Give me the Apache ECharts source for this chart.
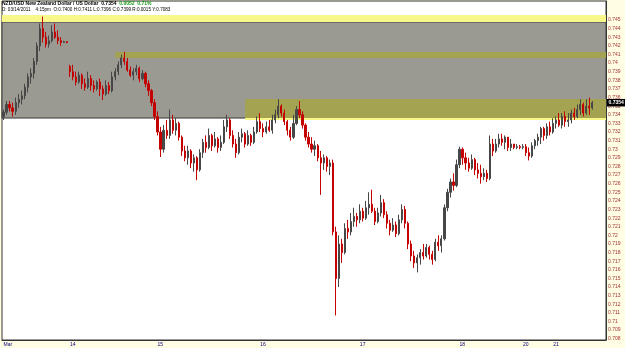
<!DOCTYPE html>
<html><head><meta charset="utf-8">
<script src="https://cdn.jsdelivr.net/npm/echarts@6/dist/echarts.min.js"></script>
<style>html,body{margin:0;padding:0;background:#fffde4;}#c{width:625px;height:348px;}</style>
</head><body><div id="c"></div><script>
// candles per day, [open, close, low, high] in pips (price x 10000)
const dayNames = ['Mar','14','15','16','17','18','20','21'];
const dayMar = [[7338,7343,7334,7346],[7343,7352,7340,7356],[7352,7348,7344,7356],[7348,7344,7338,7354],[7344,7354,7340,7360],[7354,7358,7348,7364],[7358,7362,7352,7368],[7362,7372,7358,7376],[7372,7384,7366,7388],[7384,7388,7376,7394],[7388,7402,7382,7406],[7402,7420,7398,7424],[7420,7440,7414,7446],[7440,7430,7424,7454],[7430,7422,7418,7436],[7422,7426,7418,7432],[7426,7436,7424,7444],[7436,7430,7428,7446],[7430,7426,7422,7438],[7426,7424,7420,7430],[7424,7425,7424,7426],[7425,7424,7423,7425]];
const day14 = [[7396,7390,7384,7398],[7390,7384,7380,7398],[7384,7378,7374,7390],[7378,7386,7376,7390],[7386,7376,7370,7388],[7376,7372,7368,7382],[7372,7382,7370,7390],[7382,7374,7368,7386],[7374,7370,7366,7380],[7370,7378,7368,7380],[7378,7370,7362,7382],[7370,7364,7357,7374],[7364,7374,7362,7380],[7374,7368,7364,7378],[7368,7384,7366,7390],[7384,7390,7380,7394],[7390,7398,7386,7402],[7398,7406,7394,7410],[7406,7402,7398,7413],[7402,7392,7390,7406],[7392,7386,7384,7396],[7386,7390,7380,7394],[7390,7394,7386,7398],[7394,7382,7378,7396],[7382,7388,7380,7392],[7388,7376,7372,7390],[7376,7368,7362,7380],[7368,7354,7350,7370],[7354,7338,7334,7358]];
const day15 = [[7338,7320,7316,7344],[7320,7300,7291,7326],[7300,7322,7296,7328],[7322,7316,7312,7334],[7316,7334,7312,7346],[7334,7322,7318,7340],[7322,7330,7316,7336],[7330,7314,7310,7332],[7314,7298,7292,7316],[7298,7290,7286,7304],[7290,7298,7282,7304],[7298,7284,7278,7300],[7284,7290,7274,7294],[7290,7276,7264,7292],[7276,7296,7274,7300],[7296,7308,7290,7312],[7308,7302,7296,7316],[7302,7316,7300,7324],[7316,7304,7298,7318],[7304,7312,7302,7320],[7312,7302,7296,7314],[7302,7308,7298,7316],[7308,7326,7306,7334],[7326,7334,7320,7340],[7334,7316,7312,7336],[7316,7306,7302,7322],[7306,7296,7290,7312],[7296,7314,7294,7320],[7314,7318,7308,7324],[7318,7306,7302,7320],[7306,7316,7304,7322],[7316,7308,7304,7318],[7308,7320,7306,7326],[7320,7332,7318,7338]];
const day16 = [[7332,7324,7320,7342],[7324,7320,7314,7330],[7320,7326,7318,7332],[7326,7322,7320,7334],[7322,7334,7318,7340],[7334,7340,7330,7346],[7340,7350,7336,7358],[7350,7342,7338,7352],[7342,7332,7328,7346],[7332,7322,7316,7334],[7322,7314,7310,7326],[7314,7330,7312,7340],[7330,7346,7328,7350],[7346,7340,7336,7356],[7340,7328,7324,7344],[7328,7314,7310,7330],[7314,7306,7302,7320],[7306,7300,7296,7314],[7300,7304,7292,7310],[7304,7290,7286,7306],[7290,7284,7247,7298],[7284,7290,7276,7294],[7290,7280,7274,7292],[7280,7284,7270,7288],[7284,7204,7200,7288],[7204,7150,7107,7210],[7150,7190,7140,7200],[7190,7180,7168,7196],[7180,7208,7178,7214],[7208,7204,7196,7218],[7204,7216,7200,7226],[7216,7222,7210,7232],[7222,7218,7210,7226]];
const day17 = [[7218,7228,7214,7236],[7228,7220,7216,7232],[7220,7232,7218,7240],[7232,7236,7224,7250],[7236,7228,7226,7253],[7228,7216,7212,7232],[7216,7226,7214,7232],[7226,7238,7222,7247],[7238,7224,7220,7242],[7224,7214,7208,7228],[7214,7206,7200,7218],[7206,7212,7204,7220],[7212,7202,7198,7216],[7202,7218,7200,7224],[7218,7230,7214,7236],[7230,7214,7208,7234],[7214,7190,7184,7216],[7190,7176,7170,7194],[7176,7168,7162,7182],[7168,7174,7157,7178],[7174,7180,7166,7184],[7180,7176,7172,7190],[7176,7186,7174,7190],[7186,7178,7172,7188],[7178,7172,7166,7182],[7172,7192,7170,7196],[7192,7188,7182,7200],[7188,7196,7180,7200],[7196,7232,7194,7236],[7232,7250,7228,7254],[7250,7262,7244,7266],[7262,7258,7252,7272],[7258,7282,7256,7288]];
const day18 = [[7282,7300,7278,7303],[7300,7290,7282,7302],[7290,7284,7276,7296],[7284,7278,7274,7290],[7278,7288,7276,7294],[7288,7276,7270,7290],[7276,7272,7266,7284],[7272,7268,7260,7282],[7268,7272,7264,7278],[7272,7266,7262,7276],[7266,7306,7264,7316],[7306,7298,7292,7312],[7298,7306,7296,7312],[7306,7312,7302,7318],[7312,7308,7304,7318],[7308,7314,7300,7316],[7314,7302,7298,7314],[7302,7306,7298,7312],[7306,7302,7300,7306],[7302,7303,7300,7306],[7303,7302,7300,7305]];
const day20 = [[7302,7303,7300,7306],[7303,7296,7292,7306],[7296,7292,7287,7302],[7292,7304,7290,7308],[7304,7310,7300,7312],[7310,7314,7304,7318],[7314,7324,7306,7326],[7324,7316,7310,7326],[7316,7326,7312,7330],[7326,7320,7316,7332]];
const day21 = [[7320,7330,7318,7336],[7330,7334,7324,7338],[7334,7328,7326,7342],[7328,7338,7324,7342],[7338,7332,7326,7344],[7332,7334,7326,7342],[7334,7342,7330,7346],[7342,7338,7334,7348],[7338,7346,7336,7352],[7346,7352,7340,7358],[7352,7342,7338,7354],[7342,7350,7340,7358],[7350,7348,7340,7360],[7348,7354,7346,7356]];
const days = [dayMar, day14, day15, day16, day17, day18, day20, day21];

// right-axis tick labels
const yTicks = [0.708,0.709,0.71,0.711,0.712,0.713,0.714,0.715,0.716,0.717,0.718,0.719,0.72,0.721,0.722,0.723,0.724,0.725,0.726,0.727,0.728,0.729,0.73,0.731,0.732,0.733,0.734,0.735,0.736,0.737,0.738,0.739,0.74,0.741,0.742,0.743,0.744,0.745];

// price zones [low, high]
const zoneGray = [0.73362, 0.74477];
const zoneTop = [0.74477, 0.74558];
const zoneMid = [0.74059, 0.74128];   // starts on 14th, candle 15
const zoneLow = [0.73362, 0.73583];   // starts on 15th, candle 29
const zoneLowEdge = [0.7334, 0.73362];

const header1 = ['NZD/USD New Zealand Dollar / US Dollar', '0.7354', '0.0052', '0.71%'];
const header2 = 'D: 03/14/2011    4:15pm  O:0.7400 H:0.7411 L:0.7396 C:0.7399 R:0.0015 Y:0.7083';

const categories = [];
const candles = [];
days.forEach((d, di) => d.forEach((c, j) => {
  categories.push(dayNames[di] + '#' + j);
  candles.push(c.map(v => v / 10000));
}));
for (let k = 0; k < 4; k++) categories.push('pad#x' + k);
const lastPrice = candles[candles.length - 1][1];
const midStart = dayMar.length + 15;
const lowStart = dayMar.length + day14.length + 29;

const F = 'Liberation Sans';
const chart = echarts.init(document.getElementById('c'));
chart.setOption({
  animation: false,
  backgroundColor: '#fffde4',
  title: {
    left: 2, top: 1, padding: 0, itemGap: 1,
    text: '{b|' + header1[0] + '}  {b|' + header1[1] + '}  {g|' + header1[2] + '}  {g|' + header1[3] + '}',
    textStyle: { fontSize: 5, fontFamily: F, rich: {
      b: { fontSize: 5, color: '#000', fontWeight: 'bold', fontFamily: F },
      g: { fontSize: 5, color: '#119911', fontWeight: 'bold', fontFamily: F } } },
    subtext: header2,
    subtextStyle: { fontSize: 4.6, color: '#000', fontFamily: F }
  },
  grid: { left: 2, right: 19, top: 1, bottom: 8, show: true, backgroundColor: '#fff', borderColor: '#333', borderWidth: 1 },
  xAxis: {
    type: 'category', data: categories, boundaryGap: true,
    axisLine: { show: true, lineStyle: { color: '#333' } },
    axisTick: { show: false }, splitLine: { show: false },
    axisLabel: {
      interval: (i, v) => v.endsWith('#0'),
      formatter: v => v.split('#')[0],
      align: 'left', fontSize: 5, color: '#00007a', margin: 2, fontFamily: F
    }
  },
  yAxis: {
    type: 'value', position: 'right', min: 0.70785, max: 0.74721,
    splitLine: { show: false },
    axisLine: { show: true, lineStyle: { color: '#333' } },
    axisTick: { show: false },
    axisLabel: { customValues: yTicks, formatter: v => String(+v.toFixed(3)), fontSize: 5, color: '#a33333', margin: 2, fontFamily: F }
  },
  series: [{
    type: 'candlestick', data: candles, barWidth: '55%',
    itemStyle: { color: '#474747', color0: '#c40000', borderColor: '#474747', borderColor0: '#c40000', borderWidth: 1 },
    markArea: {
      silent: true,
      data: [
        [{ yAxis: zoneGray[0], itemStyle: { color: '#9a9a92', borderColor: '#3a3a3a', borderWidth: 1 } }, { yAxis: zoneGray[1] }],
        [{ yAxis: zoneTop[0], itemStyle: { color: '#f8f88a' } }, { yAxis: zoneTop[1] }],
        [{ xAxis: midStart, yAxis: zoneMid[0], itemStyle: { color: '#a3a352' } }, { yAxis: zoneMid[1] }],
        [{ xAxis: lowStart, yAxis: zoneLow[0], itemStyle: { color: '#a3a352' } }, { yAxis: zoneLow[1] }],
        [{ xAxis: lowStart, yAxis: zoneLowEdge[0], itemStyle: { color: '#f8f88a' } }, { yAxis: zoneLowEdge[1] }]
      ]
    }
  }]
});

// last-price tag on the right axis, placed through the axis scale
const py = chart.convertToPixel({ yAxisIndex: 0 }, lastPrice);
const px = chart.convertToPixel({ xAxisIndex: 0 }, categories.length - 1);
chart.setOption({
  graphic: [{
    type: 'text', x: 607, y: py, z: 100,
    style: { text: lastPrice.toFixed(4), fill: '#fff', backgroundColor: '#000',
      font: 'bold 5px "Liberation Sans"', verticalAlign: 'middle', align: 'left', padding: [1.5, 1.5, 1, 1.5] }
  }]
});
</script></body></html>
